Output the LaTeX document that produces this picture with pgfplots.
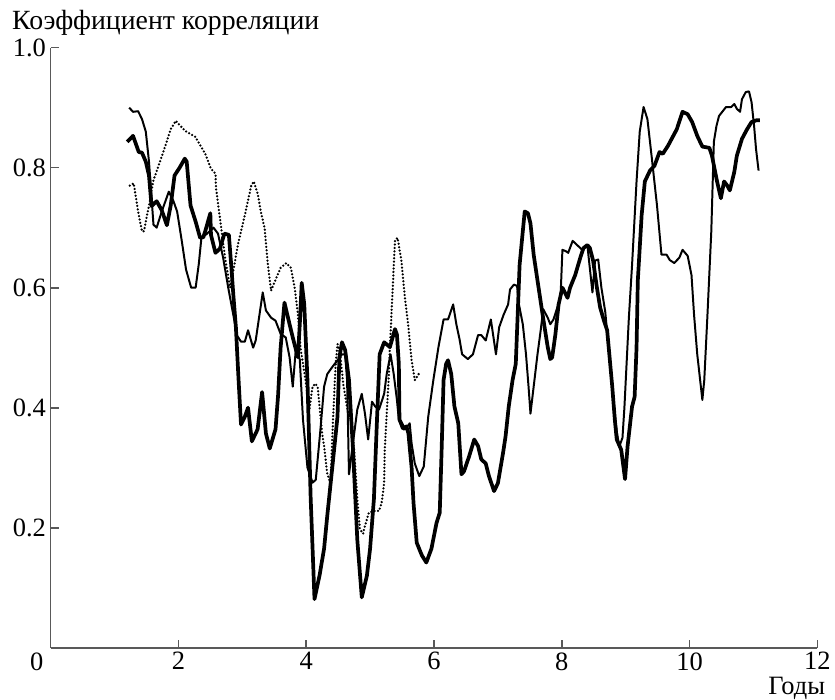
\documentclass[border=0pt]{standalone}
\usepackage{fontspec}
\setmainfont{Liberation Serif}
\usepackage{pgfplots}
\pgfplotsset{compat=1.18}

% thin solid series
\pgfplotstableread{
x y
1.23 0.900
1.29 0.893
1.37 0.894
1.43 0.881
1.49 0.860
1.54 0.810
1.57 0.765
1.61 0.705
1.66 0.700
1.74 0.727
1.85 0.760
1.92 0.745
1.98 0.727
2.05 0.680
2.12 0.630
2.20 0.600
2.27 0.600
2.32 0.640
2.36 0.683
2.45 0.690
2.55 0.700
2.62 0.690
2.70 0.650
2.78 0.600
2.85 0.560
2.92 0.520
2.98 0.510
3.04 0.510
3.09 0.529
3.17 0.500
3.21 0.512
3.32 0.592
3.37 0.562
3.45 0.550
3.52 0.545
3.60 0.523
3.68 0.517
3.74 0.484
3.79 0.435
3.84 0.500
3.90 0.480
3.95 0.380
4.02 0.300
4.10 0.275
4.15 0.280
4.22 0.360
4.28 0.435
4.33 0.456
4.41 0.468
4.49 0.479
4.56 0.489
4.61 0.489
4.64 0.446
4.67 0.289
4.72 0.331
4.80 0.397
4.87 0.423
4.92 0.390
4.97 0.347
5.03 0.410
5.08 0.402
5.14 0.397
5.22 0.423
5.26 0.456
5.32 0.489
5.37 0.456
5.42 0.413
5.45 0.380
5.50 0.365
5.56 0.365
5.62 0.374
5.65 0.340
5.70 0.307
5.77 0.286
5.84 0.302
5.91 0.385
5.99 0.446
6.07 0.501
6.15 0.547
6.22 0.547
6.30 0.572
6.35 0.539
6.40 0.514
6.44 0.489
6.53 0.481
6.61 0.489
6.69 0.521
6.74 0.521
6.81 0.512
6.89 0.547
6.97 0.489
7.02 0.534
7.09 0.555
7.16 0.572
7.19 0.597
7.25 0.605
7.30 0.603
7.33 0.572
7.39 0.539
7.44 0.489
7.48 0.435
7.51 0.390
7.56 0.435
7.62 0.489
7.67 0.529
7.71 0.564
7.78 0.550
7.82 0.539
7.87 0.547
7.93 0.567
7.98 0.583
8.01 0.663
8.06 0.661
8.10 0.658
8.17 0.678
8.26 0.669
8.32 0.663
8.40 0.671
8.48 0.592
8.52 0.645
8.57 0.647
8.62 0.600
8.68 0.560
8.75 0.480
8.80 0.420
8.86 0.360
8.90 0.335
8.95 0.350
8.98 0.400
9.05 0.550
9.10 0.638
9.17 0.777
9.22 0.860
9.28 0.901
9.34 0.881
9.41 0.815
9.49 0.737
9.56 0.655
9.64 0.655
9.69 0.646
9.76 0.641
9.84 0.650
9.89 0.663
9.97 0.653
10.03 0.621
10.07 0.555
10.12 0.489
10.20 0.413
10.23 0.446
10.28 0.555
10.34 0.694
10.38 0.843
10.42 0.869
10.46 0.886
10.57 0.901
10.65 0.901
10.70 0.906
10.74 0.898
10.79 0.893
10.82 0.914
10.88 0.926
10.93 0.927
10.97 0.909
11.01 0.869
11.04 0.831
11.08 0.795
}\thinseries

% thick solid series
\pgfplotstableread{
x y
1.20 0.843
1.29 0.853
1.38 0.826
1.43 0.825
1.49 0.810
1.54 0.787
1.58 0.736
1.66 0.744
1.74 0.729
1.82 0.704
1.88 0.737
1.94 0.787
2.02 0.800
2.10 0.815
2.13 0.810
2.19 0.737
2.27 0.710
2.34 0.683
2.39 0.684
2.42 0.694
2.50 0.724
2.51 0.688
2.58 0.658
2.65 0.665
2.72 0.690
2.79 0.688
2.83 0.633
2.86 0.588
2.90 0.534
2.94 0.450
2.98 0.372
3.04 0.385
3.09 0.400
3.15 0.344
3.24 0.364
3.31 0.426
3.37 0.357
3.43 0.332
3.52 0.364
3.56 0.420
3.60 0.500
3.66 0.575
3.74 0.539
3.79 0.517
3.87 0.484
3.90 0.539
3.93 0.608
3.97 0.572
4.02 0.446
4.07 0.250
4.13 0.081
4.21 0.121
4.28 0.165
4.33 0.220
4.41 0.302
4.49 0.385
4.52 0.484
4.56 0.509
4.61 0.496
4.67 0.446
4.70 0.390
4.73 0.336
4.80 0.180
4.87 0.084
4.95 0.120
5.00 0.165
5.06 0.248
5.11 0.385
5.15 0.489
5.22 0.509
5.31 0.501
5.39 0.531
5.42 0.522
5.45 0.473
5.46 0.380
5.53 0.365
5.57 0.369
5.60 0.357
5.65 0.300
5.68 0.241
5.73 0.175
5.81 0.154
5.88 0.142
5.96 0.165
6.04 0.208
6.09 0.225
6.12 0.331
6.15 0.446
6.19 0.473
6.22 0.479
6.27 0.456
6.32 0.402
6.38 0.374
6.43 0.289
6.47 0.294
6.55 0.319
6.63 0.347
6.69 0.336
6.74 0.314
6.81 0.307
6.86 0.286
6.94 0.261
7.00 0.274
7.08 0.324
7.12 0.352
7.17 0.402
7.23 0.446
7.28 0.473
7.31 0.555
7.34 0.638
7.39 0.694
7.42 0.727
7.47 0.724
7.51 0.707
7.56 0.655
7.62 0.612
7.70 0.555
7.78 0.501
7.82 0.481
7.85 0.484
7.90 0.522
7.95 0.572
8.01 0.600
8.09 0.583
8.13 0.600
8.21 0.621
8.29 0.650
8.34 0.666
8.40 0.671
8.44 0.666
8.49 0.645
8.55 0.600
8.60 0.567
8.66 0.545
8.71 0.529
8.79 0.435
8.83 0.380
8.86 0.347
8.93 0.330
8.99 0.281
9.03 0.336
9.10 0.402
9.14 0.418
9.17 0.500
9.19 0.612
9.25 0.721
9.30 0.777
9.38 0.795
9.45 0.803
9.53 0.826
9.58 0.823
9.66 0.836
9.80 0.864
9.89 0.893
9.97 0.889
10.04 0.876
10.12 0.853
10.20 0.835
10.31 0.833
10.35 0.820
10.43 0.777
10.49 0.749
10.54 0.777
10.59 0.770
10.63 0.762
10.70 0.793
10.74 0.820
10.82 0.848
10.90 0.864
10.97 0.876
11.05 0.879
11.10 0.879
}\thickseries

% dotted series
\pgfplotstableread{
x y
1.24 0.770
1.30 0.774
1.37 0.727
1.43 0.694
1.46 0.694
1.54 0.737
1.61 0.779
1.77 0.828
1.88 0.864
1.96 0.878
2.00 0.873
2.11 0.861
2.27 0.851
2.31 0.843
2.42 0.823
2.51 0.798
2.58 0.790
2.59 0.765
2.65 0.716
2.73 0.650
2.81 0.600
2.86 0.628
2.93 0.671
3.04 0.721
3.14 0.770
3.18 0.777
3.24 0.757
3.29 0.727
3.35 0.699
3.40 0.638
3.45 0.595
3.52 0.613
3.60 0.633
3.69 0.641
3.76 0.633
3.82 0.600
3.87 0.556
3.91 0.500
3.99 0.446
4.05 0.397
4.10 0.435
4.14 0.440
4.18 0.435
4.22 0.390
4.25 0.357
4.28 0.336
4.33 0.290
4.38 0.273
4.42 0.380
4.46 0.470
4.49 0.506
4.53 0.490
4.58 0.440
4.64 0.400
4.69 0.385
4.75 0.331
4.80 0.248
4.84 0.198
4.89 0.190
4.92 0.203
4.98 0.225
5.06 0.228
5.14 0.228
5.18 0.241
5.22 0.274
5.23 0.331
5.26 0.390
5.29 0.446
5.31 0.501
5.36 0.612
5.39 0.679
5.43 0.683
5.49 0.645
5.54 0.588
5.60 0.534
5.65 0.479
5.70 0.446
5.76 0.456
}\dottedseries

\newcommand\lblfont{\fontsize{20}{24}\selectfont}
\newcommand\ttlfont{\fontsize{21}{25}\selectfont}

\begin{document}
\begin{tikzpicture}
\begin{axis}[
  scale only axis,
  width=579.75pt, height=453.75pt,
  xmin=0, xmax=12, ymin=0, ymax=1,
  axis lines=left,
  axis line style={-, black!65, line width=1.3pt},
  xtick={0,2,4,6,8,10,12},
  xticklabels={,2,4,6,8,10,12},
  ytick={0,0.2,0.4,0.6,0.8,1.0},
  yticklabels={,0.2,0.4,0.6,0.8,1.0},
  tick align=inside,
  major tick length=6pt,
  tick style={black!65, line width=1.3pt},
  /pgf/number format/assume math mode=true,
  ticklabel style={font=\lblfont},
  clip=false,
]
\addplot[black, line width=1.5pt, line join=round] table {\thinseries};
\addplot[black, line width=2.8pt, line join=round] table {\thickseries};
\addplot[black, line width=1.9pt, line cap=round, dash pattern=on 0pt off 2.6pt] table {\dottedseries};

\node[anchor=north, font=\lblfont, xshift=-10.5pt] at (axis cs:0,0) {0};
\node[anchor=base west, inner sep=0, xshift=-29.25pt, yshift=13.5pt, font=\ttlfont] at (rel axis cs:0,1) {Коэффициент корреляции};
\node[anchor=base east, inner sep=0, xshift=6pt, yshift=-35pt, font=\lblfont] at (rel axis cs:1,0) {Годы};

% page frame around the plot area
\coordinate (frameBL) at ([xshift=-38.25pt, yshift=-38.25pt]rel axis cs:0,0);
\coordinate (frameTR) at ([xshift=8.25pt, yshift=36pt]rel axis cs:1,1);
\end{axis}
\path[use as bounding box] (frameBL) rectangle (frameTR);
\end{tikzpicture}
\end{document}
